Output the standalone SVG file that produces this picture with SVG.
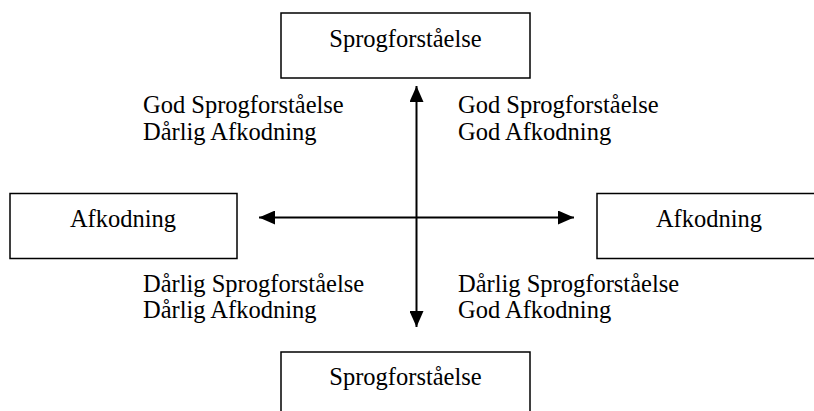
<svg xmlns="http://www.w3.org/2000/svg" width="814" height="411" viewBox="0 0 814 411">
<style>
.box{fill:#fff;stroke:#000;stroke-width:1.5}
.t{font-family:"Liberation Serif","Times New Roman",serif;font-size:24.5px;fill:#000}
.c{text-anchor:middle}
.ln{stroke:#000;stroke-width:2;fill:none;marker-start:url(#ah);marker-end:url(#ah)}
</style>
<defs>
<marker id="ah" markerUnits="userSpaceOnUse" markerWidth="18" markerHeight="14" refX="16" refY="7" orient="auto-start-reverse">
<path d="M0,0 L16,7 L0,14 Z" fill="#000"/>
</marker>
</defs>
<rect width="814" height="411" fill="#fff"/>
<g id="connectors">
<line class="ln" x1="416.5" y1="86" x2="416.5" y2="327"/>
<line class="ln" x1="259" y1="217.5" x2="574" y2="217.5"/>
</g>
<g id="top">
<rect class="box" x="281" y="13" width="249" height="65"/>
<text class="t c" x="405.5" y="47">Sprogforståelse</text>
</g>
<g id="left">
<rect class="box" x="10" y="193.5" width="227" height="65"/>
<text class="t c" x="123" y="227">Afkodning</text>
</g>
<g id="right">
<rect class="box" x="597" y="193.5" width="230" height="65"/>
<text class="t c" x="709" y="227">Afkodning</text>
</g>
<g id="bottom">
<rect class="box" x="281" y="352" width="249" height="70"/>
<text class="t c" x="405.5" y="385">Sprogforståelse</text>
</g>
<g id="q-tl">
<text class="t" x="143" y="113">God Sprogforståelse</text>
<text class="t" x="143" y="140">Dårlig Afkodning</text>
</g>
<g id="q-tr">
<text class="t" x="458" y="113">God Sprogforståelse</text>
<text class="t" x="458" y="140">God Afkodning</text>
</g>
<g id="q-bl">
<text class="t" x="143" y="292">Dårlig Sprogforståelse</text>
<text class="t" x="143" y="318">Dårlig Afkodning</text>
</g>
<g id="q-br">
<text class="t" x="458" y="292">Dårlig Sprogforståelse</text>
<text class="t" x="458" y="318">God Afkodning</text>
</g>
</svg>
